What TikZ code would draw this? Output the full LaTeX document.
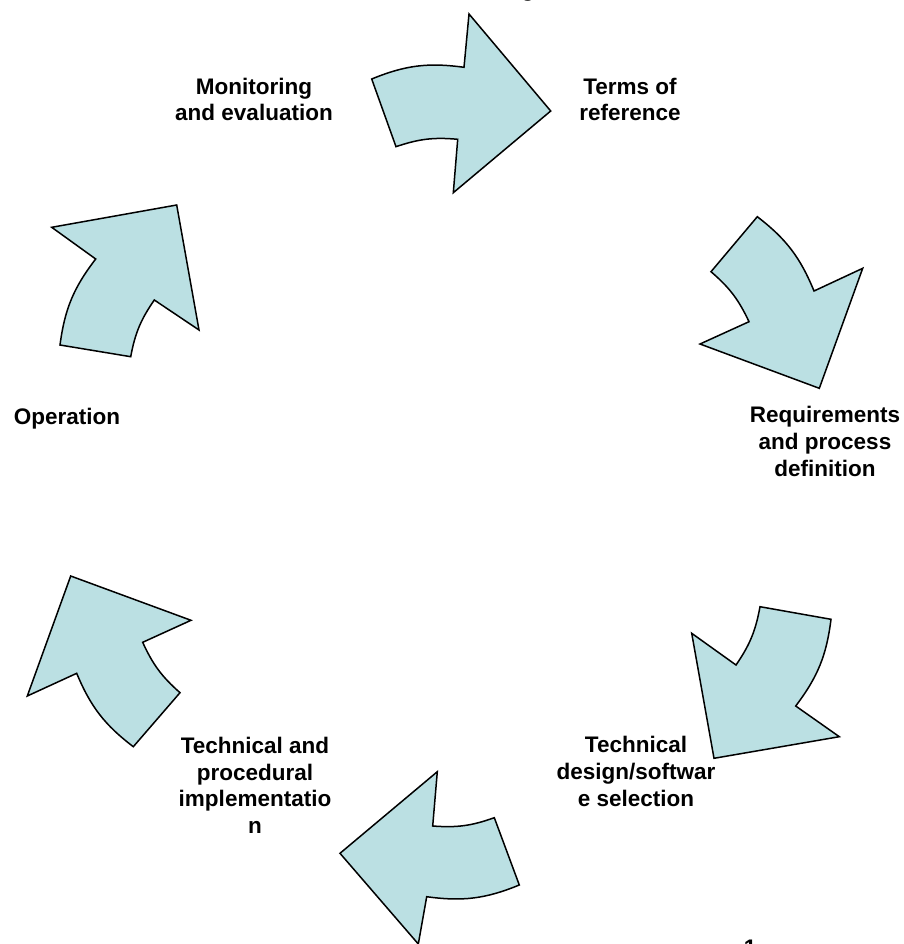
\documentclass[tikz,border=0pt]{standalone}
\usepackage{fontspec}
\setmainfont{Liberation Sans}
\definecolor{arrowfill}{RGB}{187,224,227}

\begin{document}
\begin{tikzpicture}[x=1pt, y=1pt,
    stage/.style={font={\fontsize{22.5}{26.7}\selectfont\bfseries}, align=center, anchor=base, inner sep=0pt},
    cycarrow/.style={draw, line width=1.5pt, line join=miter, fill=arrowfill}
]
\useasboundingbox (0,0) rectangle (903,-944);
\clip (0,0) rectangle (903,-944);

% stage labels (anchored at the baseline of the last line)
\node[stage] (cutg) at (528,3) {g};
\node[stage] (monitor) at (254,-121) {Monitoring\\and evaluation};
\node[stage] (terms) at (630,-121) {Terms of\\reference};
\node[stage] (reqs) at (825,-476) {Requirements\\and process\\definition};
\node[stage] (design) at (636,-806) {Technical\\design/softwar\\e selection};
\node[stage] (implement) at (255,-833.5) {Technical and\\procedural\\implementatio\\n};
\node[stage] (operation) at (67,-424) {Operation};
\node[stage] (pagenum) at (750,-955) {1};

% cycle arrows
\draw[cycarrow] (371.7,-79) to[bend left=15] (464,-67.3) -- (469,-14) -- (550.7,-111)
    -- (453.3,-192.7) -- (457.7,-139.3) to[bend right=12] (396,-146.7) -- cycle;
\draw[cycarrow] (757.3,-216.7) to[bend left=15] (814,-291) -- (862.7,-268.3) -- (819.3,-388.3)
    -- (700,-344) -- (749,-321.7) to[bend right=12] (711,-271.7) -- cycle;
\draw[cycarrow] (760,-606.7) -- (831,-619.3) to[bend left=15] (795.7,-706) -- (839.3,-736.7)
    -- (714,-758.3) -- (691.7,-633.3) -- (736,-665) to[bend right=12] cycle;
\draw[cycarrow] (437.3,-771.7) -- (432.7,-826) to[bend right=12] (494.3,-817.7) -- (519.3,-885)
    to[bend left=15] (426.7,-896.7) -- (418.3,-944) -- (340,-853.3) -- cycle;
\draw[cycarrow] (70.7,-576) -- (191,-620.3) -- (142.7,-642.3) to[bend right=12] (180,-692.7)
    -- (133.3,-746.7) to[bend left=15] (76.7,-673.3) -- (27.3,-696) -- cycle;
\draw[cycarrow] (51.7,-227.3) -- (176.7,-205) -- (199,-330) -- (154.3,-300) to[bend right=12] (130.7,-356.7)
    -- (60,-345) to[bend left=15] (95.7,-259) -- cycle;

\end{tikzpicture}
\end{document}
